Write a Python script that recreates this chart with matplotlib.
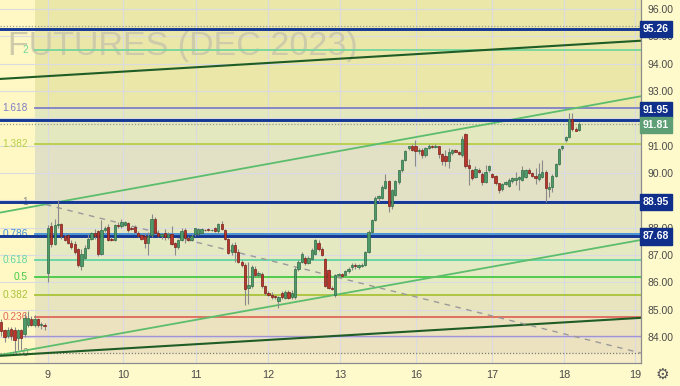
import numpy as np
import matplotlib.pyplot as plt
from matplotlib import transforms

# hourly bars, one line per trading day (8 partial, 9, 10, 11, 12, 13, 16, 17, 18 partial)
opens = [
    84.55, 84.25, 84.05, 84.30, 84.25, 83.95, 84.25, 84.10, 84.45, 84.65, 84.45, 84.65, 84.45, 84.42,
    86.35, 88.05, 87.40, 88.10, 88.12, 87.70, 87.72, 87.45, 87.40, 87.20, 86.60, 86.90, 87.25, 87.60, 87.82, 87.88, 87.05, 87.90, 88.03, 87.60, 87.55, 88.10,
    88.05, 88.10, 88.18, 87.98, 88.02, 87.82, 87.72, 87.70, 87.45, 87.72, 88.32, 87.82, 87.68, 87.80, 87.65, 87.78, 87.42, 87.28, 87.55, 87.90, 87.62, 87.55,
    87.75, 87.78, 87.80, 87.92, 87.96, 87.90, 87.98, 87.88, 88.12, 87.92, 87.58, 87.10, 87.36, 87.10, 86.75, 86.62, 85.80, 85.88, 86.50, 86.25, 86.30, 85.85,
    85.62, 85.55, 85.50, 85.30, 85.62, 85.42, 85.65, 85.45, 85.45, 86.48, 86.75, 86.88, 86.72, 86.85, 87.05, 87.45, 87.20, 86.85, 86.45, 85.80, 85.55, 86.28,
    86.30, 86.28, 86.40, 86.55, 86.65, 86.55, 86.60, 86.65, 87.12, 87.85, 88.28, 89.08, 89.10, 89.45, 89.70, 88.78, 89.20, 89.68, 90.10, 90.48, 90.90, 91.00,
    91.00, 90.80, 90.85, 90.65, 90.92, 91.00, 90.95, 90.98, 90.70, 90.62, 90.42, 90.72, 90.85, 90.78, 90.66, 91.42, 90.28, 90.10, 89.85, 90.12, 89.98, 89.68,
    90.12, 89.95, 89.88, 89.62, 89.40, 89.60, 89.52, 89.70, 89.75, 89.78, 89.75, 89.85, 90.10, 90.00, 89.90, 89.78, 89.85, 90.05, 89.40, 89.50, 89.88, 90.32,
    90.90, 91.22, 91.30, 91.96, 91.62, 91.58,
]
highs = [
    84.65, 84.30, 84.35, 84.35, 84.35, 84.30, 84.30, 84.88, 84.95, 84.75, 84.80, 84.70, 84.55, 84.50,
    88.10, 88.22, 88.30, 89.00, 88.18, 87.75, 87.78, 87.55, 87.50, 87.25, 87.20, 87.35, 87.75, 87.85, 87.95, 87.92, 88.28, 88.05, 88.15, 87.65, 88.15, 88.20,
    88.30, 88.25, 88.22, 88.05, 88.10, 87.88, 87.78, 87.80, 87.85, 88.50, 88.40, 87.90, 87.80, 87.95, 87.85, 88.05, 87.48, 87.60, 88.00, 88.00, 87.70, 87.75,
    88.00, 88.00, 87.98, 87.96, 87.99, 87.95, 88.02, 88.18, 88.25, 87.95, 87.62, 87.45, 87.48, 87.20, 86.80, 86.70, 86.75, 86.65, 86.60, 86.40, 86.38, 85.90,
    85.68, 85.65, 85.55, 85.50, 85.68, 85.70, 85.70, 85.72, 86.55, 86.80, 87.10, 86.95, 86.95, 87.25, 87.60, 87.55, 87.30, 86.90, 86.50, 85.85, 86.30, 86.35,
    86.35, 86.45, 86.55, 86.70, 86.72, 86.68, 86.70, 87.15, 87.90, 88.30, 89.15, 89.20, 89.55, 89.95, 89.75, 89.40, 89.75, 90.12, 90.50, 90.85, 91.00, 91.05,
    91.22, 90.90, 90.90, 90.95, 91.05, 91.02, 91.05, 91.00, 90.72, 90.85, 90.90, 90.88, 90.88, 90.80, 91.36, 91.45, 90.50, 90.15, 90.25, 90.18, 90.02, 90.30,
    90.30, 90.00, 89.92, 89.65, 89.65, 89.72, 89.80, 89.85, 90.05, 89.88, 90.25, 90.15, 90.18, 90.05, 90.20, 90.38, 90.48, 90.10, 89.68, 89.95, 90.35, 90.92,
    91.02, 91.35, 92.18, 92.18, 91.68, 91.85,
]
lows = [
    84.05, 83.82, 83.95, 83.90, 83.42, 83.52, 83.52, 84.00, 84.35, 84.40, 84.35, 84.35, 84.30, 84.25,
    86.00, 87.30, 87.35, 88.00, 87.60, 87.50, 87.40, 87.20, 87.05, 86.55, 86.45, 86.85, 87.20, 87.55, 87.60, 86.95, 87.00, 87.85, 87.50, 87.50, 87.50, 88.00,
    88.00, 88.05, 87.85, 87.90, 87.80, 87.65, 87.55, 87.25, 87.00, 87.65, 87.75, 87.65, 87.60, 87.55, 87.60, 87.35, 87.00, 87.20, 87.50, 87.45, 87.50, 87.50,
    87.70, 87.72, 87.75, 87.86, 87.88, 87.86, 87.85, 87.82, 87.90, 87.55, 87.05, 87.00, 86.75, 86.72, 86.55, 85.17, 85.20, 85.80, 86.20, 86.18, 85.80, 85.55,
    85.50, 85.40, 85.40, 85.07, 85.40, 85.38, 85.38, 85.40, 85.40, 86.42, 86.70, 86.65, 86.68, 86.80, 87.00, 87.15, 86.95, 85.82, 85.75, 85.70, 85.45, 86.20,
    86.18, 86.22, 86.35, 86.45, 86.50, 86.50, 86.55, 86.60, 87.08, 87.80, 88.25, 88.95, 89.05, 89.40, 88.58, 88.70, 89.15, 89.60, 90.05, 90.45, 90.85, 90.80,
    90.25, 90.70, 90.55, 90.60, 90.88, 90.90, 90.92, 90.55, 90.30, 90.25, 90.20, 90.65, 90.75, 90.65, 90.60, 90.20, 89.55, 89.75, 89.80, 90.00, 89.55, 89.65,
    90.05, 89.80, 89.55, 89.25, 89.35, 89.55, 89.48, 89.65, 89.55, 89.38, 89.70, 89.80, 89.95, 89.85, 89.60, 89.70, 89.80, 88.93, 89.12, 89.30, 89.85, 90.30,
    90.85, 91.15, 91.28, 91.55, 91.52, 91.55,
]
closes = [
    84.20, 84.00, 84.25, 84.05, 83.90, 84.25, 83.95, 84.70, 84.70, 84.45, 84.65, 84.45, 84.45, 84.40,
    88.00, 87.40, 88.10, 88.15, 87.68, 87.55, 87.45, 87.30, 87.10, 86.65, 87.05, 87.25, 87.60, 87.80, 87.70, 87.05, 87.90, 88.00, 87.55, 87.55, 88.10, 88.05,
    88.22, 88.20, 87.90, 87.95, 87.85, 87.70, 87.60, 87.45, 87.70, 88.30, 87.82, 87.70, 87.75, 87.65, 87.75, 87.40, 87.28, 87.55, 87.88, 87.62, 87.55, 87.70,
    87.98, 87.95, 87.94, 87.90, 87.92, 87.93, 87.88, 88.12, 87.95, 87.60, 87.08, 87.38, 87.10, 86.75, 86.62, 85.75, 85.90, 86.55, 86.25, 86.33, 85.85, 85.60,
    85.55, 85.48, 85.45, 85.45, 85.45, 85.65, 85.42, 85.60, 86.50, 86.75, 87.05, 86.70, 86.88, 87.18, 87.55, 87.20, 87.00, 85.85, 85.80, 85.75, 86.25, 86.30,
    86.22, 86.40, 86.50, 86.65, 86.58, 86.62, 86.65, 87.10, 87.85, 88.28, 89.10, 89.15, 89.50, 89.70, 88.78, 89.38, 89.72, 90.10, 90.48, 90.82, 90.98, 90.85,
    90.82, 90.85, 90.65, 90.90, 91.00, 90.95, 91.00, 90.70, 90.42, 90.45, 90.78, 90.85, 90.78, 90.68, 91.24, 90.25, 90.18, 89.80, 90.15, 90.02, 89.68, 90.02,
    90.25, 89.84, 89.62, 89.38, 89.60, 89.68, 89.75, 89.80, 89.82, 89.85, 90.10, 90.10, 90.00, 89.88, 89.80, 89.95, 90.02, 89.45, 89.48, 89.90, 90.32, 90.88,
    90.98, 91.32, 91.96, 91.62, 91.55, 91.81,
]

day_labels = ['9', '10', '11', '12', '13', '16', '17', '18', '19']
day_ticks = [14, 36.5, 58.3, 79.9, 101.4, 124.2, 146.9, 168.5, 189.8]

# fibonacci retracement (drawn from bar 10)
fib_low, fib_high = 83.41, 88.95
fib_ratios = [0, 0.236, 0.382, 0.5, 0.618, 0.786, 1, 1.382, 1.618, 2]
fib_names = ['0', '0.236', '0.382', '0.5', '0.618', '0.786', '1', '1.382', '1.618', '2']
fib_colors = ['#8c8c84', '#e0685a', '#a9c23a', '#45c945', '#62d3a6', '#3f8fd6',
              '#8c8c8c', '#b6cf4a', '#7f7fc6', '#74d69c']
fib_fills = ['#ede2c0', '#e8e4bd', '#e6eabe', '#e4eac3', '#e5e9c2', '#e5e6c0',
             '#e2e1c5', '#e3e8bf', '#eae7a9']
fib_start = 10.1

# key levels (right-axis tags) and their tag positions
key_levels = [95.26, 91.95, 88.95, 87.68]
key_tag_y = [95.26, 92.30, 88.95, 87.68]
last_price = 91.81
extra_purple = 84.05
dotted_levels = [95.38, 91.81, 83.41]

# trend lines: (x0, y0, x1, y1)
dark_lines = [(-0.36, 93.44, 191.6, 94.84), (-0.36, 83.31, 191.6, 84.70)]
light_lines = [(-0.36, 88.55, 191.6, 92.81), (-0.36, 83.34, 191.6, 87.55)]
dash_line = (10.1, 88.94, 191.6, 83.41)

plt.rcParams['font.family'] = ['Liberation Sans', 'DejaVu Sans']

fig = plt.figure(figsize=(6.8, 3.86), dpi=100)
fig.patch.set_facecolor('#fffacb')
ax = fig.add_axes([0, 23.3 / 386, 641 / 680, 362.7 / 386])
ax.set_facecolor('#fff8c4')
xmin, xmax = -0.36, 191.55
ymin, ymax = 83.058, 96.329
ax.set_xlim(xmin, xmax)
ax.set_ylim(ymin, ymax)

# fib background bands
fx = (fib_start - xmin) / (xmax - xmin)
levels = [fib_low + r * (fib_high - fib_low) for r in fib_ratios]
ax.axhspan(ymin, levels[0], xmin=fx, color='#f6edc8', lw=0, zorder=0.2)
for i in range(len(levels) - 1):
    ax.axhspan(levels[i], levels[i + 1], xmin=fx, color=fib_fills[i], lw=0, zorder=0.2)
ax.axhspan(levels[-1], ymax, xmin=fx, color=fib_fills[-1], lw=0, zorder=0.2)

# grid
for p in range(84, 97):
    ax.axhline(p, color='#d9dae2', lw=0.8, zorder=0.4)
for d in day_ticks:
    ax.axvline(d, color='#d9dae2', lw=0.8, zorder=0.4)

# watermark
ax.text(2.0, 94.62, 'FUTURES (DEC 2023)', fontsize=24.5, color='#cecbab',
        ha='left', va='center', zorder=0.5)

# fib lines and labels
for lev, name, col, r in zip(levels, fib_names, fib_colors, fib_ratios):
    if r == 0:
        ax.plot([xmin, xmax], [lev, lev], color='#7a7a72', lw=0.9, ls=(0, (1, 1.5)), zorder=1)
    else:
        ax.plot([fib_start, xmax], [lev, lev], color=col, lw=1.3, zorder=1)
    ax.text(8.0, lev, name, color=col, fontsize=7.3, ha='right', va='center', zorder=1.2)
ax.plot([6.2, xmax], [extra_purple, extra_purple], color='#a393cf', lw=1.0, zorder=1)

for y in dotted_levels[:2]:
    ax.plot([xmin, xmax], [y, y], color='#9a9f94', lw=0.9, ls=(0, (1, 1.5)), zorder=1)

# trend lines
for x0, y0, x1, y1 in light_lines:
    ax.plot([x0, x1], [y0, y1], color='#5cbd6c', lw=1.3, zorder=2)
for x0, y0, x1, y1 in dark_lines:
    ax.plot([x0, x1], [y0, y1], color='#1f5c26', lw=1.5, zorder=2)
ax.plot([dash_line[0], dash_line[2]], [dash_line[1], dash_line[3]],
        color='#9a9a9a', lw=1.0, ls=(0, (4, 4)), zorder=2)

# key levels
for lev in key_levels:
    ax.axhline(lev, color='#143894', lw=2.1, zorder=2.5)

# candles
o = np.array(opens)
h = np.array(highs)
l = np.array(lows)
c = np.array(closes)
x = np.arange(len(c))
up = c >= o
ax.vlines(x, l, h, color='#8a8a8a', lw=0.8, zorder=3)
body = np.maximum(np.abs(c - o), 0.03)
bot = np.minimum(o, c)
ax.bar(x[up], body[up], bottom=bot[up], width=0.68, color='#4f9a6a',
       edgecolor='#2f6b45', lw=0.5, zorder=3.5)
ax.bar(x[~up], body[~up], bottom=bot[~up], width=0.68, color='#b8372d',
       edgecolor='#7a1f1a', lw=0.5, zorder=3.5)

# axes styling
ax.yaxis.tick_right()
ax.set_yticks(range(84, 97))
ax.set_yticklabels(['%.2f' % v for v in range(84, 97)])
ax.tick_params(axis='y', length=0, pad=5, labelsize=7.5, labelcolor='#4a4a4a')
ax.set_xticks(day_ticks)
ax.set_xticklabels(day_labels)
ax.tick_params(axis='x', length=0, pad=5, labelsize=7.8, labelcolor='#4a4a4a')
for s in ['top', 'left']:
    ax.spines[s].set_visible(False)
for s in ['right', 'bottom']:
    ax.spines[s].set_color('#8c8c8c')
    ax.spines[s].set_linewidth(0.9)

# price tags on the right axis
trans = transforms.blended_transform_factory(ax.transAxes, ax.transData)
for lev, ty in zip(key_levels, key_tag_y):
    ax.text(1.003, ty, '%.2f' % lev, transform=trans, color='white', fontsize=7.5,
            fontweight='bold', ha='left', va='center', zorder=6, clip_on=False,
            bbox=dict(boxstyle='square,pad=0.3', fc='#0f2f8a', ec='#0f2f8a'))
ax.text(1.003, last_price - 0.06, '%.2f' % last_price, transform=trans, color='white',
        fontsize=7.5, fontweight='bold', ha='left', va='center', zorder=6, clip_on=False,
        bbox=dict(boxstyle='square,pad=0.3', fc='#5f9f75', ec='#5f9f75'))

fig.text(662 / 680, 1 - 374 / 386, '\u2699', fontsize=11, color='#555555',
         ha='center', va='center', family='DejaVu Sans')

fig.savefig('out.png', dpi=100, facecolor=fig.get_facecolor())
